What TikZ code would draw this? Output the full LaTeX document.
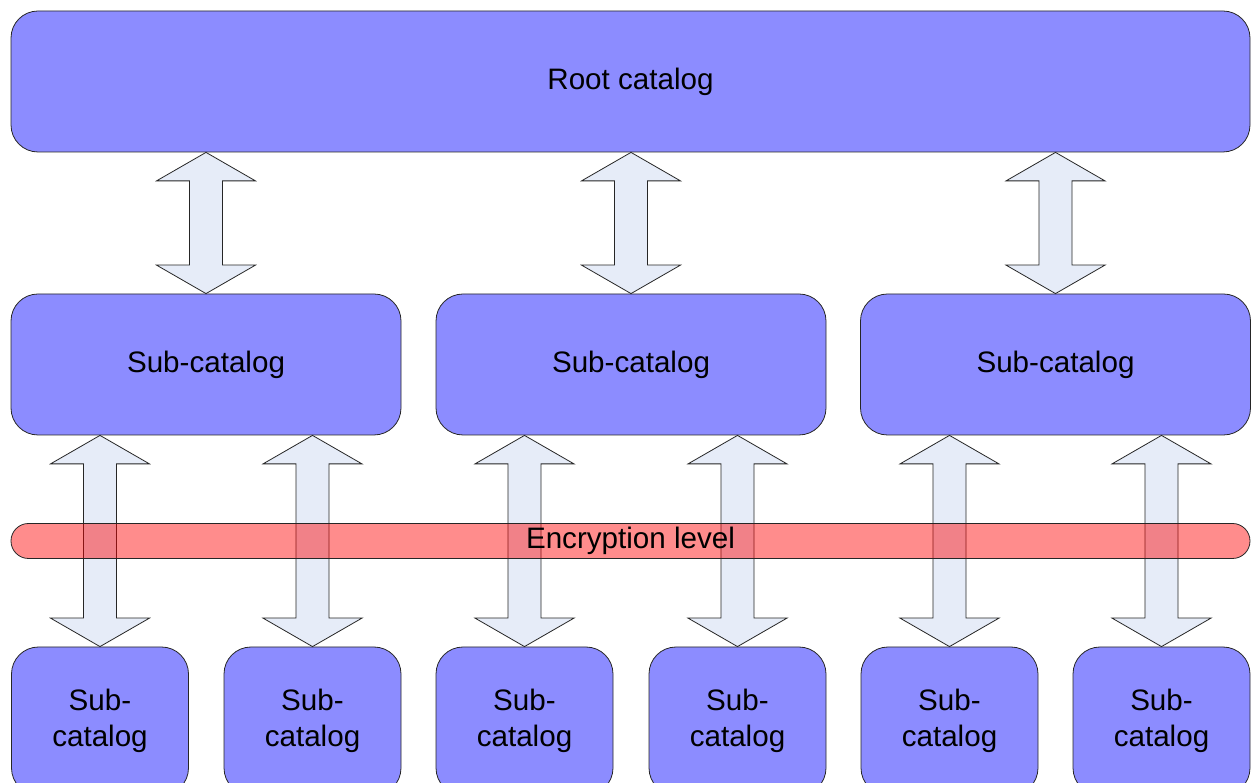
\documentclass[tikz,border=0pt]{standalone}
\usepackage{fontspec}
\setmainfont{Liberation Sans}
\usetikzlibrary{calc,positioning}

\definecolor{catblue}{RGB}{140,140,255}
\definecolor{arrowgrey}{RGB}{230,236,248}

% two-headed block arrow, #1 lower tip, #2 upper tip
\newcommand\twoway[2]{%
  \draw[twoway] let \p1=(#1), \p2=(#2) in
    (\p1) -- (\x1+49.5pt,\y1+28.5pt) -- (\x1+16.5pt,\y1+28.5pt)
    -- (\x1+16.5pt,\y2-28.5pt) -- (\x1+49.5pt,\y2-28.5pt) -- (\x1,\y2)
    -- (\x1-49.5pt,\y2-28.5pt) -- (\x1-16.5pt,\y2-28.5pt)
    -- (\x1-16.5pt,\y1+28.5pt) -- (\x1-49.5pt,\y1+28.5pt) -- cycle;}

\begin{document}
\begin{tikzpicture}[x=1pt,y=1pt,
    catalog/.style={draw=black!85,line width=0.8pt,fill=catblue,rounded corners=27pt,inner sep=0pt,align=center},
    twoway/.style={draw=black!85,fill=arrowgrey,line width=0.8pt,line join=miter},
    encband/.style={draw=black!85,line width=0.8pt,fill=red,fill opacity=0.45,text opacity=1,rounded corners=17.5pt,inner sep=0pt}]
  \useasboundingbox (0,0) rectangle (1256,782);
  \fontsize{29.6}{36}\selectfont
  \node[catalog,minimum width=1239pt,minimum height=141pt] (root) at (630.5,700.5) {Root catalog};
  \node[catalog,minimum width=390pt,minimum height=141pt] (sub1) at (206,417.5) {Sub-catalog};
  \node[catalog,minimum width=390pt,minimum height=141pt] (sub2) at (631,417.5) {Sub-catalog};
  \node[catalog,minimum width=390pt,minimum height=141pt] (sub3) at (1055.5,417.5) {Sub-catalog};
  \foreach \i/\x in {1/100,2/312.5,3/524.5,4/737.5,5/949.5,6/1161.5}
    \node[catalog,minimum width=177pt,minimum height=148pt] (leaf\i) at (\x,61) {Sub-\\catalog};
  \twoway{sub1.north}{root.south -| sub1.north}
  \twoway{sub2.north}{root.south -| sub2.north}
  \twoway{sub3.north}{root.south -| sub3.north}
  \twoway{leaf1.north}{leaf1.north |- sub1.south}
  \twoway{leaf2.north}{leaf2.north |- sub1.south}
  \twoway{leaf3.north}{leaf3.north |- sub2.south}
  \twoway{leaf4.north}{leaf4.north |- sub2.south}
  \twoway{leaf5.north}{leaf5.north |- sub3.south}
  \twoway{leaf6.north}{leaf6.north |- sub3.south}
  \node[encband,minimum width=1239pt,minimum height=35pt] (enc) at (630.5,241) {\raisebox{-3pt}{Encryption level}};
\end{tikzpicture}
\end{document}
